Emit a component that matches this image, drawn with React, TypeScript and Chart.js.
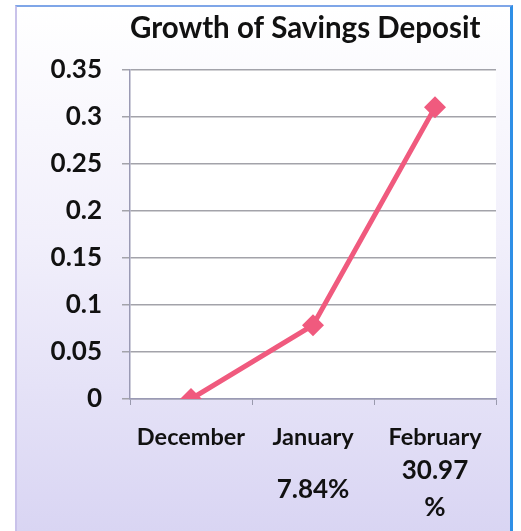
import React, { useEffect, useRef } from "react";
import { Chart, registerables } from "chart.js";

Chart.register(...registerables);

const titleText = "Growth of Savings Deposit";
const months = ["December", "January", "February"];
const growthLabels: (string | string[])[] = ["", "7.84%", ["30.97", "%"]];
const growthValues = [0, 0.0784, 0.3097];
const yMin = 0;
const yMax = 0.35;
const yStep = 0.05;

const plotBg = {
  id: "plotBg",
  beforeDraw(chart: any) {
    const { ctx, chartArea } = chart;
    ctx.save();
    ctx.fillStyle = "#ffffff";
    ctx.fillRect(chartArea.left, chartArea.top, chartArea.width, chartArea.height);
    ctx.restore();
  },
};

export default function App() {
  const ref = useRef<HTMLCanvasElement>(null);
  useEffect(() => {
    document.body.style.margin = "0";
    const font = "Lato, 'Open Sans', sans-serif";
    const chart = new Chart(ref.current!, {
      type: "line",
      data: {
        labels: months,
        datasets: [
          {
            data: growthValues,
            borderColor: "#f05a7e",
            backgroundColor: "#f05a7e",
            borderWidth: 5,
            pointStyle: "rectRot",
            pointRadius: 11,
            pointBorderWidth: 0,
            tension: 0,
            xAxisID: "x",
          },
        ],
      },
      options: {
        animation: false,
        responsive: true,
        maintainAspectRatio: false,
        layout: { padding: { left: 0, right: 14, top: 0, bottom: 0 } },
        plugins: {
          legend: { display: false },
          tooltip: { enabled: false },
          title: {
            display: true,
            fullSize: false,
            align: "start",
            text: titleText,
            color: "#111111",
            font: { family: font, size: 29.5, weight: "bold" },
            padding: { top: 4, bottom: 23 },
          },
        },
        scales: {
          x: {
            type: "category",
            offset: true,
            afterFit: (s: any) => {
              s.height = 52;
            },
            grid: {
              display: true,
              drawOnChartArea: false,
              drawTicks: true,
              offset: true,
              tickLength: 6,
              color: "#9a9aae",
            },
            border: { display: true, color: "#9a9ab4", width: 1.5 },
            ticks: {
              color: "#111111",
              font: { family: font, size: 23.5, weight: "bold" },
              padding: 18,
              maxRotation: 0,
              autoSkip: false,
            },
          },
          x2: {
            type: "category",
            position: "bottom",
            labels: growthLabels as any,
            offset: true,
            grid: { display: false, drawTicks: false },
            border: { display: false },
            afterFit: (s: any) => {
              s.height = 80;
            },
            ticks: {
              color: "#111111",
              font: { family: font, size: 26, weight: "bold", lineHeight: 1.4 },
              crossAlign: "center",
              padding: 20,
              maxRotation: 0,
              autoSkip: false,
            },
          },
          y: {
            min: yMin,
            max: yMax,
            afterFit: (s: any) => {
              s.width = 113;
            },
            grid: {
              color: "#a3a3aa",
              lineWidth: 1.5,
              tickLength: 8,
              drawTicks: true,
            },
            border: { display: true, color: "#9a9ab4", width: 1.5 },
            ticks: {
              stepSize: yStep,
              color: "#111111",
              font: { family: font, size: 26, weight: "bold" },
              padding: 20,
              callback: (v: any) => String(Number(Number(v).toFixed(2))),
            },
          },
        },
      },
      plugins: [plotBg],
    });
    return () => chart.destroy();
  }, []);
  return (
    <div
      style={{
        position: "fixed",
        left: 15,
        top: 5,
        width: 498,
        height: 526,
        boxSizing: "border-box",
        borderTop: "2px solid #7fa6e8",
        borderRight: "3px solid #2f8fe6",
        borderLeft: "2px solid #c9c2ea",
        background: "linear-gradient(#ffffff 0%, #f1effb 45%, #d9d5f3 100%)",
      }}
    >
      <canvas ref={ref} />
    </div>
  );
}
